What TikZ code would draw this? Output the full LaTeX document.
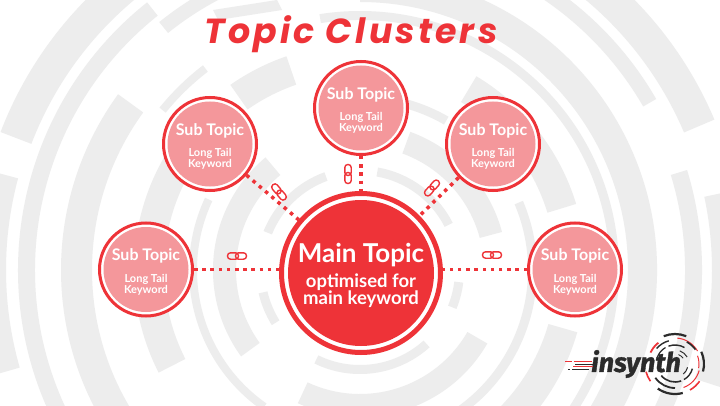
\documentclass[tikz,border=0pt]{standalone}
\usepackage{fontspec}
\setmainfont{Lato}
\newfontfamily\titlefont{Poppins}
\newfontfamily\logofont{Fira Sans}
\definecolor{tred}{HTML}{EE3338}
\definecolor{tpink}{HTML}{F4979B}
\definecolor{tband}{HTML}{EDEDED}
\definecolor{tdark}{HTML}{2B2B2B}
\newcommand{\bandarc}[4]{\fill[tband] (360,135) ++(#3:#2) arc[start angle=#3,end angle=#4,radius=#2] -- ++(#4:#1-#2) arc[start angle=#4,end angle=#3,radius=#1] -- cycle;}
\tikzset{
 x=1pt,y=1pt,
 subtopic/.style={circle,draw=tred,line width=3pt,fill=white,minimum size=93pt,inner sep=0pt,outer sep=1.5pt},
 maintopic/.style={circle,draw=tred,line width=5pt,fill=white,minimum size=159pt,inner sep=0pt,outer sep=2.5pt},
 subfill/.style={circle,fill=tpink,minimum size=85pt,inner sep=0pt},
 mainfill/.style={circle,fill=tred,minimum size=146pt,inner sep=0pt},
 subhead/.style={text=white,font=\bfseries\fontsize{16}{16}\selectfont},
 subbody/.style={text=white,font=\bfseries\fontsize{11}{11}\selectfont,align=center},
 dotlink/.style={tred,line width=3.5pt,dash pattern=on 3.5pt off 4.7pt},
 chainring/.style={draw=tred,line width=1.4pt,rounded corners=3pt},
 chain/.pic={
   \draw[chainring] (-9.5,-3.2) rectangle (1.5,3.2);
   \draw[chainring] (-1.5,-3.2) rectangle (9.5,3.2);
 }
}
\begin{document}
\begin{tikzpicture}
\useasboundingbox (0,0) rectangle (720,405);
\fill[white] (0,0) rectangle (720,405);
% background
\bandarc{352}{385}{23}{159}
\bandarc{354}{385}{165}{196}
\bandarc{352}{385}{-18}{12}
\bandarc{325}{342}{-60}{17}
\bandarc{327}{342}{30}{90}
\bandarc{325}{342}{128.5}{206}
\bandarc{305}{319}{110}{129}
\bandarc{268}{297}{-62}{90}
\bandarc{268}{299}{144}{218}
\fill[tband] (213,395) -- (218,385) -- (282,395) -- (277,405) -- cycle;
\bandarc{250}{259}{-40}{99}
\bandarc{250}{258}{127.5}{141}
\bandarc{196}{226}{17}{59}
\bandarc{196}{226}{-62}{-16}
\bandarc{196}{226}{109}{125}
\bandarc{196}{226}{150}{207}
\bandarc{168}{177}{-60}{23}
\bandarc{168}{177}{60}{80}
\bandarc{163}{171}{155}{235}
\bandarc{124}{147}{15}{70}
\bandarc{124}{147}{130}{216}
\bandarc{124}{147}{245}{330}
\bandarc{95}{104}{27}{80}
\bandarc{95}{104}{110}{158}
\bandarc{95}{104}{193}{212}
\bandarc{95}{104}{244}{312}
\bandarc{95}{104}{-22}{-7}
% title
\node (title) at (351,371) {\titlefont\fontsize{34.8}{34.8}\selectfont\addfontfeatures{LetterSpace=9}\bfseries\itshape\textcolor{tred}{Topic Clusters}};
% nodes
\node[maintopic] (main) at (361,132) {};
\node[subtopic] (sa) at (146,135.5) {};
\node[subtopic] (sb) at (210,261) {};
\node[subtopic] (sc) at (361,297) {};
\node[subtopic] (sd) at (493,261) {};
\node[subtopic] (se) at (575,135.5) {};
% connectors
\draw[dotlink] (sa.east) -- (main.west |- sa);
\draw[dotlink] (sb) -- (main);
\draw[dotlink] (sc) -- (main);
\draw[dotlink] (sd) -- (main);
\draw[dotlink] (se.west) -- (main.east |- se);
% chain links
\pic[rotate=0] at (237,149) {chain};
\pic[rotate=-50] at (279,213) {chain};
\pic[rotate=90] at (348,231) {chain};
\pic[rotate=48] at (432,217) {chain};
\pic[rotate=0] at (492,150) {chain};
% fills
\node[mainfill] (mf) at (main) {};
\node[subfill] (fa) at (sa) {};
\node[subfill] (fb) at (sb) {};
\node[subfill] (fc) at (sc) {};
\node[subfill] (fd) at (sd) {};
\node[subfill] (fe) at (se) {};
% text
\node[text=white,font=\bfseries\fontsize{26}{26}\selectfont] (mt) at (361,150) {Main Topic};
\node[text=white,font=\bfseries\fontsize{18.5}{17}\selectfont,align=center] (mb) at (361,114) {optimised for\\main keyword};
\foreach \n/\x/\y in {a/146/135.5,b/210/261,c/361/297,d/493/261,e/575/135.5}{
  \node[subhead] (h\n) at (\x,\y+13.5) {Sub Topic};
  \node[subbody] (b\n) at (\x,\y-15) {Long Tail\\Keyword};
}
% logo
\foreach \r/\s/\e/\c/\w in {
 30/68/112/tdark/2.2, 27/128/155/tred/1.8, 30/195/215/tred/1.6, 30/235/285/tdark/2.2, 30/300/325/tred/1.6, 29/345/385/tdark/2.2, 
 26/30/85/tred/1, 25/35/62/tdark/1.6, 24/105/140/tdark/1.4, 24/215/270/tdark/1.8, 25/290/345/tred/1, 24/350/380/tred/1,
 19/60/110/tdark/1.4, 19/120/160/tdark/1.2, 18/220/290/tdark/1.6, 18/300/345/tdark/1.4,
 14/30/70/tdark/1, 10/35/70/tdark/.8, 13/310/345/tdark/1}{
  \draw[\c,line width=\w pt] (675,41) ++(\s:\r) arc[start angle=\s,end angle=\e,radius=\r];
}
\node[text=tdark,font=\logofont\bfseries\itshape\fontsize{27}{27}\selectfont,inner sep=0pt] (logo) at (636,41) {\addfontfeatures{FakeBold=1.2}insynth};
\coordinate (la) at (565,44); \coordinate (lb) at (592,44);
\coordinate (lc) at (575,41); \coordinate (ld) at (593,41);
\coordinate (ld2) at (573,38.5); \coordinate (ld3) at (593,38.5);
\coordinate (le) at (568,36); \coordinate (lf) at (589,36);
\draw[tred,line width=.8pt,dash pattern=on 7pt off 1.5pt on 18pt] (la) -- (lb);
\draw[tdark,line width=.8pt] (lc) -- (ld);
\draw[tred,line width=.8pt] (ld2) -- (ld3);
\draw[tdark,line width=1pt,dash pattern=on 2pt off 2pt on 17pt] (le) -- (lf);
\end{tikzpicture}
\end{document}
